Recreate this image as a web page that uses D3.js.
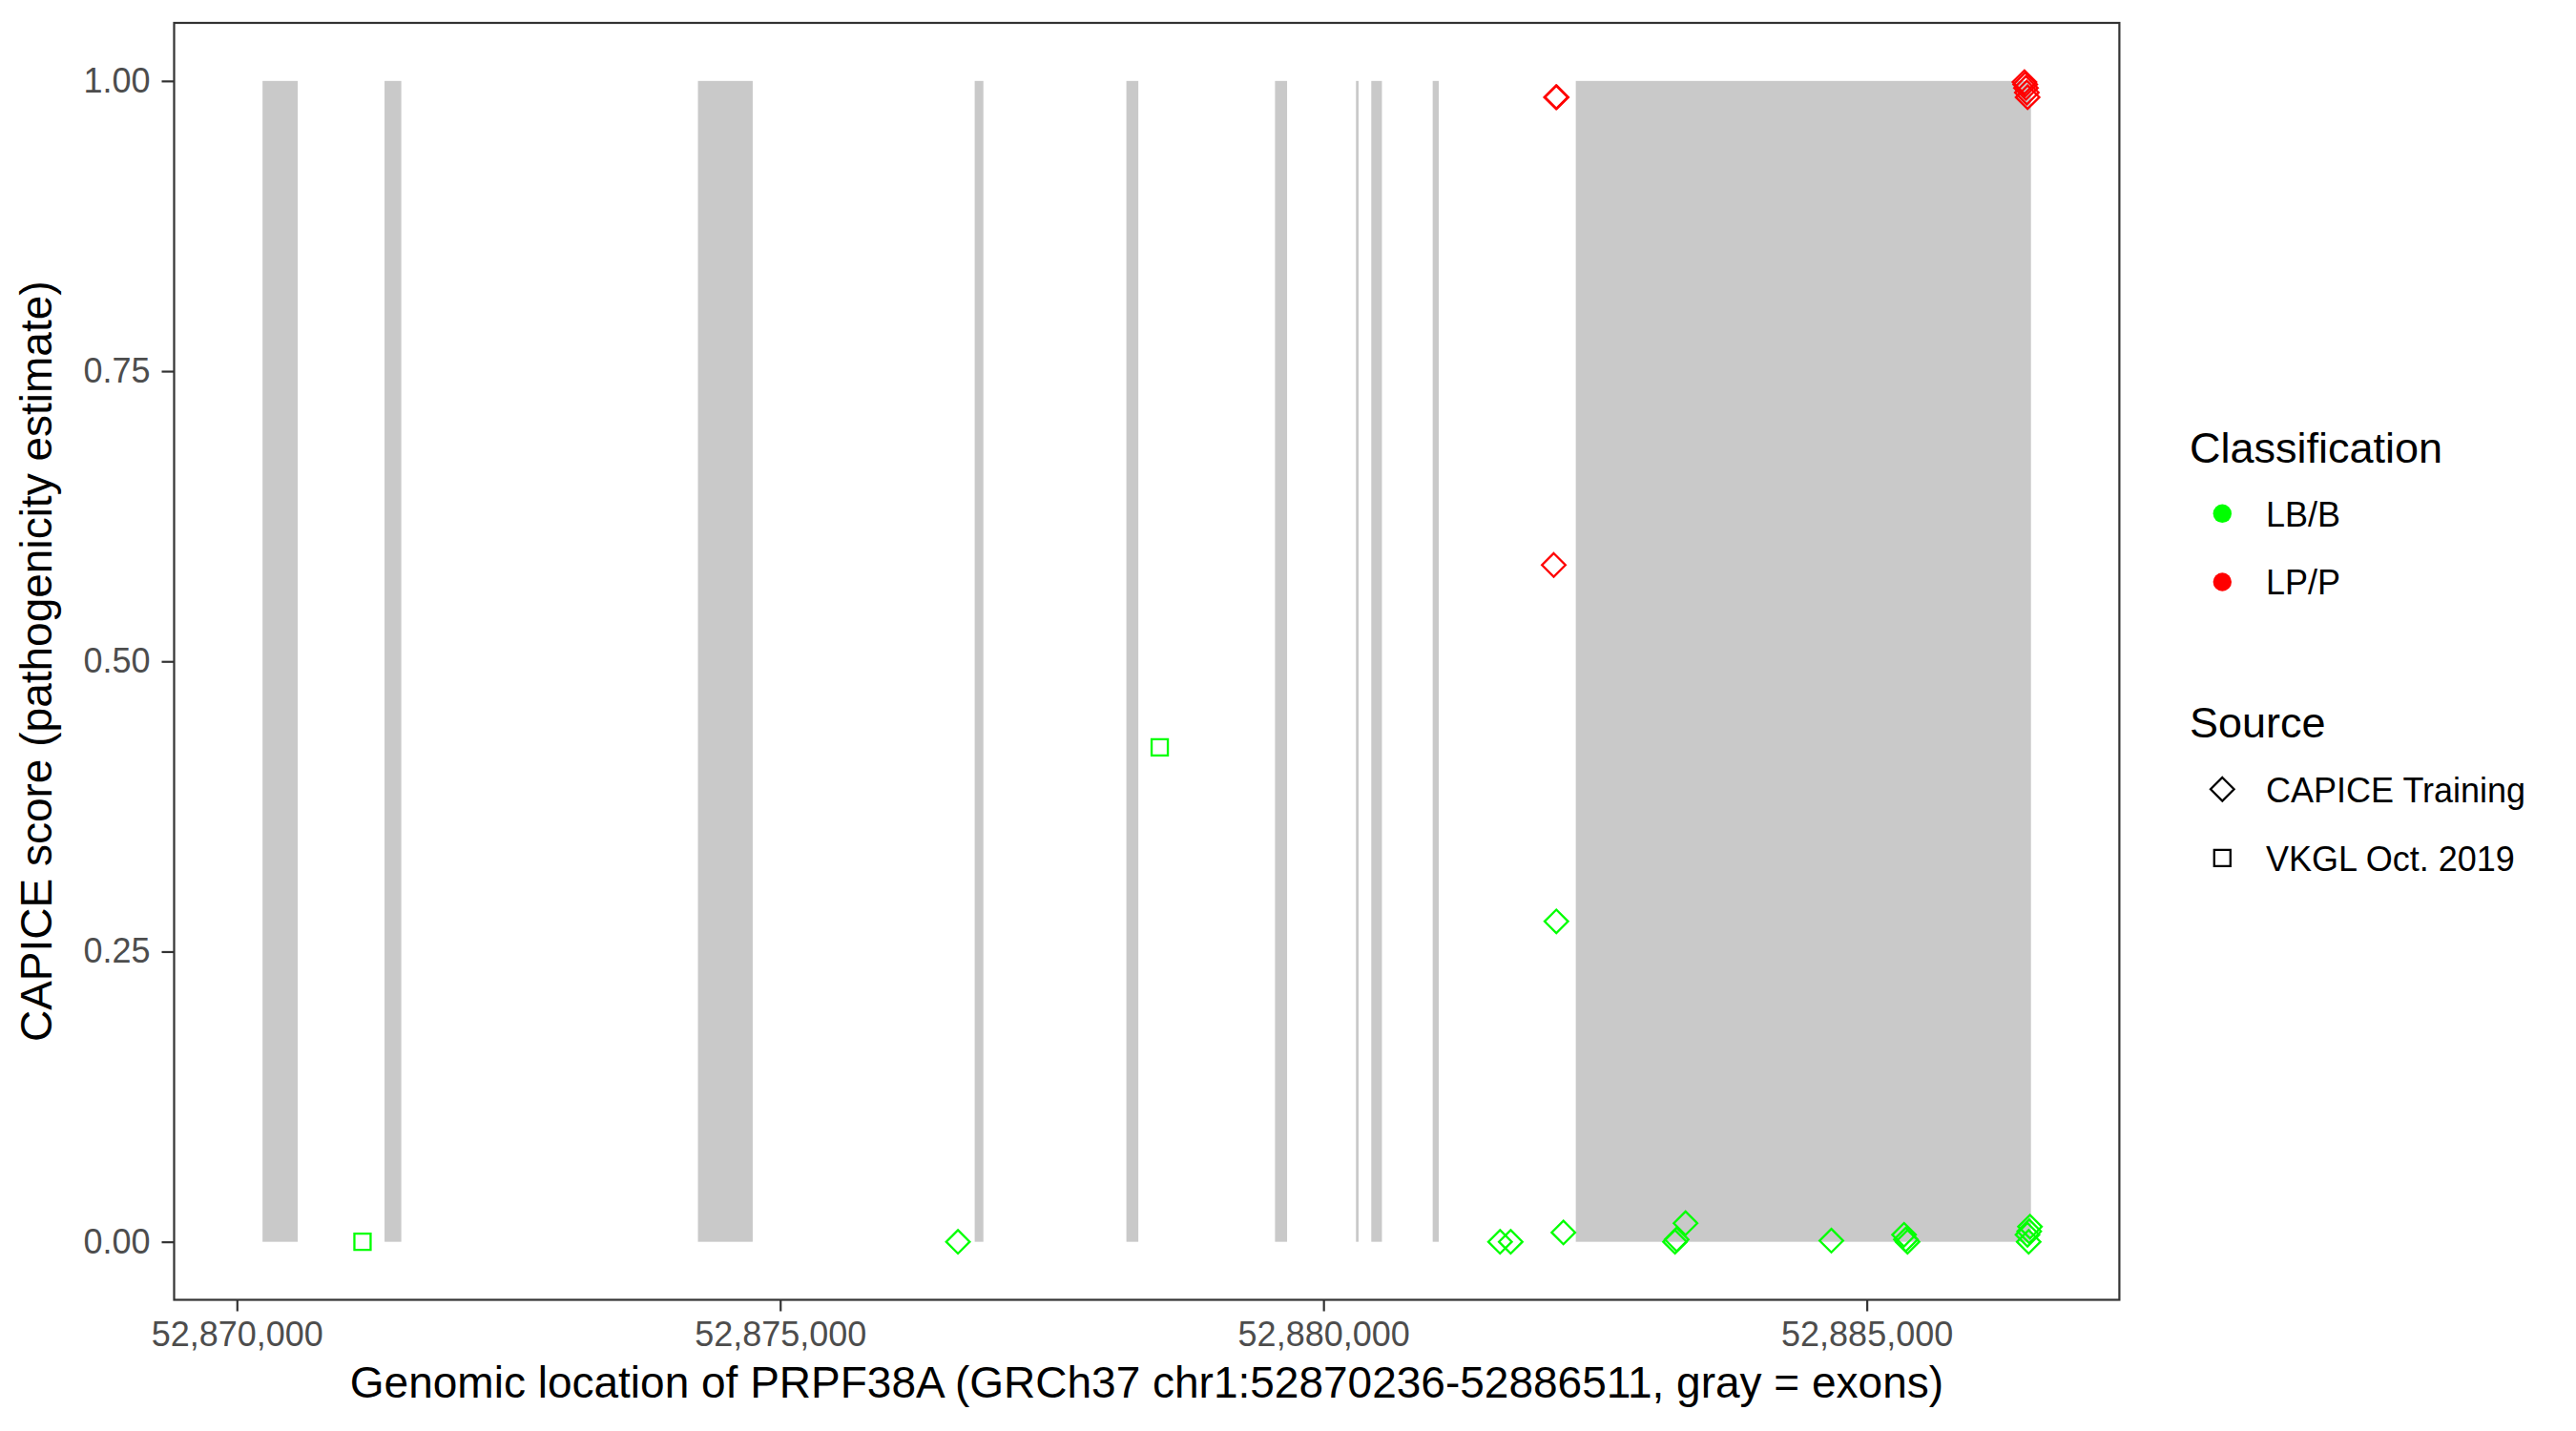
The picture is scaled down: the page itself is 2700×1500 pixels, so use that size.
<!DOCTYPE html>
<html>
<head>
<meta charset="utf-8">
<script src="https://cdn.jsdelivr.net/npm/d3@7"></script>
<style>
    html, body { margin: 0; padding: 0; background: #fff; }
    svg { display: block; font-family: "Liberation Sans", Arial, sans-serif; }
</style>
</head>
<body>
<div id="chart"></div>
<script>
/********** Data **********/

// exon bounds (bp), gray bars from score 0 to 1
var exonStarts = [52870236, 52871359, 52874243, 52876790, 52878186, 52879554, 52880299, 52880440, 52881005, 52882322];
var exonEnds = [52870560, 52871513, 52874747, 52876870, 52878296, 52879665, 52880323, 52880538, 52881061, 52886511];

// variants
var varPos = [
    52871156, 52878493,
    52876636, 52881625, 52881723, 52882143, 52882208, 52883235, 52883250, 52883332,
    52884674, 52885343, 52885360, 52885375, 52886479, 52886490, 52886495, 52886502,
    52882119, 52882140, 52882146, 52886451, 52886458, 52886465, 52886473, 52886480
];
var varScore = [
    0.000, 0.426,
    0.000, 0.000, 0.000, 0.276, 0.008, 0.000, 0.002, 0.016,
    0.001, 0.006, 0.002, 0.000, 0.006, 0.000, 0.009, 0.013,
    0.583, 0.986, 0.986, 0.999, 0.997, 0.994, 0.990, 0.986
];
var varClass = [
    "LB/B", "LB/B",
    "LB/B", "LB/B", "LB/B", "LB/B", "LB/B", "LB/B", "LB/B", "LB/B",
    "LB/B", "LB/B", "LB/B", "LB/B", "LB/B", "LB/B", "LB/B", "LB/B",
    "LP/P", "LP/P", "LP/P", "LP/P", "LP/P", "LP/P", "LP/P", "LP/P"
];
var varSource = [
    "VKGL Oct. 2019", "VKGL Oct. 2019",
    "CAPICE Training", "CAPICE Training", "CAPICE Training", "CAPICE Training", "CAPICE Training", "CAPICE Training", "CAPICE Training", "CAPICE Training",
    "CAPICE Training", "CAPICE Training", "CAPICE Training", "CAPICE Training", "CAPICE Training", "CAPICE Training", "CAPICE Training", "CAPICE Training",
    "CAPICE Training", "CAPICE Training", "CAPICE Training", "CAPICE Training", "CAPICE Training", "CAPICE Training", "CAPICE Training", "CAPICE Training"
];

var classLabels = ["LB/B", "LP/P"];
var sourceLabels = ["CAPICE Training", "VKGL Oct. 2019"];
var xTicks = [52870000, 52875000, 52880000, 52885000];
var yTicks = [0, 0.25, 0.5, 0.75, 1];

var xTitle = "Genomic location of PRPF38A (GRCh37 chr1:52870236-52886511, gray = exons)";
var yTitle = "CAPICE score (pathogenicity estimate)";

/********** Layout **********/

var W = 2700, H = 1500;
var panel = { left: 182.5, right: 2221.4, top: 24, bottom: 1362.5 };
var colorMap = { "LB/B": "#00FF00", "LP/P": "#FF0000" };
var axisGrey = "#4D4D4D", borderGrey = "#333333";

var svg = d3.select("#chart").append("svg").attr("width", W).attr("height", H);

// ggplot style 5% expansion
var xMin = d3.min(exonStarts.concat(varPos)), xMax = d3.max(exonEnds.concat(varPos));
var xPad = (xMax - xMin) * 0.05;
var x = d3.scaleLinear().domain([xMin - xPad, xMax + xPad]).range([panel.left, panel.right]);
var y = d3.scaleLinear().domain([-0.05, 1.05]).range([panel.bottom, panel.top]);

var exons = exonStarts.map(function (s, i) { return { start: s, end: exonEnds[i] }; });
var points = varPos.map(function (p, i) {
    return { pos: p, score: varScore[i], cls: varClass[i], src: varSource[i] };
});

/********** Exons **********/

svg.append("g").selectAll("rect").data(exons).enter().append("rect")
    .attr("x", function (d) { return x(d.start); })
    .attr("y", y(1))
    .attr("width", function (d) { return Math.max(1, x(d.end) - x(d.start)); })
    .attr("height", y(0) - y(1))
    .attr("fill", "#C9C9C9");

/********** Points **********/

function shapePath(src, cx, cy, scale) {
    var s = scale || 1;
    if (src === "VKGL Oct. 2019") {
        var h = 8.5 * s;
        return "M" + (cx - h) + "," + (cy - h) + "h" + 2 * h + "v" + 2 * h + "h" + (-2 * h) + "Z";
    }
    var r = 12.3 * s;
    return "M" + cx + "," + (cy - r) + "L" + (cx + r) + "," + cy + "L" + cx + "," + (cy + r) + "L" + (cx - r) + "," + cy + "Z";
}

svg.append("g").selectAll("path").data(points).enter().append("path")
    .attr("d", function (d) { return shapePath(d.src, x(d.pos), y(d.score)); })
    .attr("fill", "none")
    .attr("stroke", function (d) { return colorMap[d.cls]; })
    .attr("stroke-width", 2.3);

/********** Panel border & axes **********/

svg.append("rect")
    .attr("x", panel.left).attr("y", panel.top)
    .attr("width", panel.right - panel.left).attr("height", panel.bottom - panel.top)
    .attr("fill", "none").attr("stroke", borderGrey).attr("stroke-width", 2.2);

var xAxis = svg.append("g").attr("transform", "translate(0," + panel.bottom + ")")
    .call(d3.axisBottom(x).tickValues(xTicks).tickFormat(d3.format(",")).tickSize(12).tickPadding(11));
var yAxis = svg.append("g").attr("transform", "translate(" + panel.left + ",0)")
    .call(d3.axisLeft(y).tickValues(yTicks).tickFormat(d3.format(".2f")).tickSize(13).tickPadding(12));

[xAxis, yAxis].forEach(function (ax) {
    ax.select(".domain").remove();
    ax.selectAll(".tick line").attr("stroke", borderGrey).attr("stroke-width", 2.2);
    ax.selectAll(".tick text").attr("fill", axisGrey)
        .style("font-size", "36px").style("font-family", "'Liberation Sans', Arial, sans-serif");
});

svg.append("text")
    .attr("x", (panel.left + panel.right) / 2).attr("y", 1465)
    .attr("text-anchor", "middle").style("font-size", "46px").attr("fill", "#000")
    .text(xTitle);

svg.append("text")
    .attr("transform", "translate(53.5," + (panel.top + panel.bottom) / 2 + ") rotate(-90)")
    .attr("text-anchor", "middle").style("font-size", "46px").attr("fill", "#000")
    .text(yTitle);

/********** Legend **********/

var lg = svg.append("g");
var keyX = 2329.3, labelX = 2375;

lg.append("text").attr("x", 2295).attr("y", 485).style("font-size", "45px").text("Classification");
var classY = [538.3, 610];
classLabels.forEach(function (c, i) {
    lg.append("circle").attr("cx", keyX).attr("cy", classY[i]).attr("r", 9.7).attr("fill", colorMap[c]);
    lg.append("text").attr("x", labelX).attr("y", classY[i] + 13.4).style("font-size", "36px").text(c);
});

lg.append("text").attr("x", 2295).attr("y", 773.3).style("font-size", "45px").text("Source");
var srcY = [827.3, 899.3];
sourceLabels.forEach(function (s, i) {
    lg.append("path").attr("d", shapePath(s, keyX, srcY[i]))
        .attr("fill", "none").attr("stroke", "#000").attr("stroke-width", 2.3);
    lg.append("text").attr("x", labelX).attr("y", srcY[i] + 13.4).style("font-size", "36px").text(s);
});
</script>
</body>
</html>
